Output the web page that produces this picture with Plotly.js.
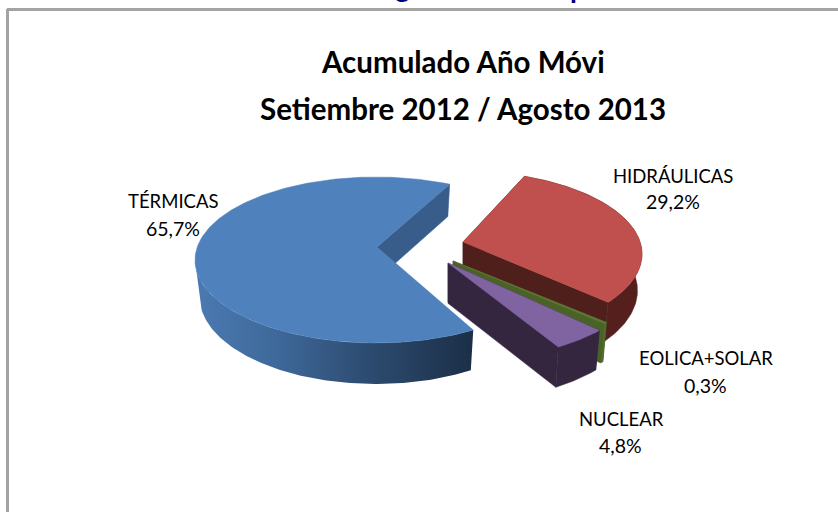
<!DOCTYPE html>
<html><head><meta charset="utf-8">
<script src="https://cdn.plot.ly/plotly-3.0.1.min.js"></script>
<style>html,body{margin:0;padding:0;background:#fff;overflow:hidden}</style></head>
<body><div id="chart" style="width:838px;height:512px"></div>
<script>
// DATA
const categories = ["TÉRMICAS","HIDRÁULICAS","EOLICA+SOLAR","NUCLEAR"];
const percents = [65.7, 29.2, 0.3, 4.8];
const percentLabels = ["65,7%","29,2%","0,3%","4,8%"];
const titleLines = ["Acumulado Año Móvi","Setiembre 2012 / Agosto 2013"];

// STYLE
const topColors  = ["#4f81bd","#c0504d","#5f7a35","#8064a2"];
const wallColors = ["#385d8a","#4f1f1c","#4a6128","#35263f"];
const outerColors= [null,"#541f1c","#4f6b2a","#35263f"];

// GEOMETRY of the tilted pie (pixels, axis range = page pixels)
const rx=181, ry=83, startDeg=147.5;
const centers=[[376,260],[461,254],[466,270],[461,277]];
const apexes =[[377,247],[463,242],[453,261],[448,263]];
const angleNudge=[0,-3.5,0,0];
const depth=t=>36.5-4.5*Math.cos(t);
const rad=d=>d*Math.PI/180;

function rim(c,t){return [c[0]+rx*Math.sin(t), c[1]-ry*Math.cos(t)];}
function rimLow(c,t){return [c[0]+rx*0.975*Math.sin(t), c[1]-ry*Math.cos(t)+depth(t)];}

function arc(c,a,b,fn){const pts=[];const n=Math.max(2,Math.ceil(Math.abs(b-a)/1));
  for(let i=0;i<=n;i++){pts.push(fn(c,rad(a+(b-a)*i/n)));}return pts;}

function poly(pts,color,name,extra){
  const x=pts.map(p=>p[0]),y=pts.map(p=>p[1]);x.push(x[0]);y.push(y[0]);
  return Object.assign({type:"scatter",mode:"lines",x,y,fill:"toself",fillcolor:color,
    line:{width:0.5,color:color},hoverinfo:"text",text:name,showlegend:false},extra||{});
}

const traces=[];
let a=startDeg;
const spans=percents.map(p=>p/100*360);
const ranges=spans.map((s,i)=>{const r=[a+angleNudge[i],a+s+angleNudge[i]];a+=s;return r;});
[0,1,2,3].forEach(i=>{
  const c=centers[i],ap=apexes[i],[s,e]=ranges[i],name=categories[i];
  const startP=rim(c,rad(s)),endP=rim(c,rad(e));
  const lowS=rimLow(c,rad(s)),lowE=rimLow(c,rad(e));
  const apLowS=[ap[0],ap[1]+depth(rad(s))],apLowE=[ap[0],ap[1]+depth(rad(e))];
  traces.push(poly([endP,lowE,apLowE,ap],wallColors[i],name));
  if(i!==0) traces.push(poly([startP,lowS,apLowS,ap],wallColors[i],name));
  let os=s,oe=e;
  if(i===0){os=s;oe=270;}
  if(i===1){os=Math.max(s,90);oe=e;}
  const wall=arc(c,os,oe,rim).concat(arc(c,oe,os,rimLow));
  if(i===0){
    traces.push(poly(wall,"#365a87",name,{line:{width:0},fillgradient:{type:"horizontal",
      colorscale:[[0,"#4b7ab2"],[0.3,"#3e6899"],[0.6,"#2e4d73"],[1,"#1b2f47"]]}}));
  } else {
    traces.push(poly(wall,outerColors[i],name));
  }
  traces.push(poly([ap].concat(arc(c,s,e,rim)),topColors[i],name));
});

const font="Lato, Carlito, Calibri, sans-serif";
const ann=(x,y,text,size,bold,color,anchor)=>({x,y,xref:"x",yref:"y",text,showarrow:false,
  xanchor:"center",yanchor:anchor||"middle",font:{family:font,size,color:color||"#000",weight:bold?700:400}});
const namePos=[[173,201],[673,176],[706,358],[621,419]];
const valuePos=[[173,228],[673,201],[705,385],[620,445]];
const annotations=[
  ann(463,61,titleLines[0],29.5,true),
  ann(463,108,titleLines[1],29.5,true),
  ann(402,5,"g",28,true,"#000080","bottom"),
  ann(578,6,"p",28,true,"#000080","bottom")
];
categories.forEach((n,i)=>{
  annotations.push(ann(namePos[i][0],namePos[i][1],n,18.5,false));
  annotations.push(ann(valuePos[i][0],valuePos[i][1],percentLabels[i],19.5,false));
});

const frame="#a3a3a3";
const layout={width:838,height:512,margin:{l:0,r:0,t:0,b:0},
  paper_bgcolor:"#fff",plot_bgcolor:"#fff",showlegend:false,
  xaxis:{range:[0,838],visible:false,fixedrange:true},
  yaxis:{range:[512,0],visible:false,fixedrange:true},
  annotations,
  shapes:[
    {type:"line",xref:"x",yref:"y",x0:7,x1:838,y0:9.5,y1:9.5,line:{color:frame,width:3}},
    {type:"line",xref:"x",yref:"y",x0:7.5,x1:7.5,y0:9,y1:512,line:{color:frame,width:3}}
  ]};
Plotly.newPlot("chart",traces,layout,{staticPlot:true,displayModeBar:false});
</script></body></html>
